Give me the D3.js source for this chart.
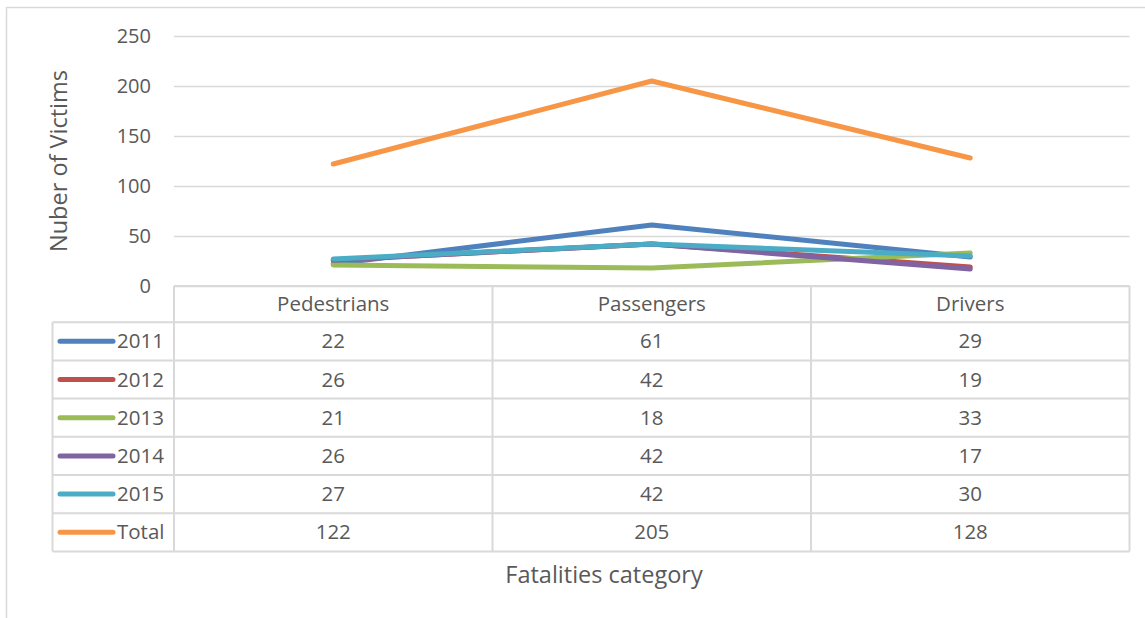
<!DOCTYPE html>
<html>
<head>
<meta charset="utf-8">
<script src="https://cdn.jsdelivr.net/npm/d3@7"></script>
<style>
  html, body { margin: 0; padding: 0; background: #fff; }
  svg { display: block; }
  text { font-family: "Open Sans", sans-serif; fill: #595959; }
</style>
</head>
<body>
<svg id="chart" width="1145" height="618"></svg>
<script>
// Fatalities by road-user category, 2011-2015
const categories = ["Pedestrians", "Passengers", "Drivers"];
const seriesNames = ["2011", "2012", "2013", "2014", "2015", "Total"];
const v2011 = [22, 61, 29];
const v2012 = [26, 42, 19];
const v2013 = [21, 18, 33];
const v2014 = [26, 42, 17];
const v2015 = [27, 42, 30];
const vTotal = [122, 205, 128];
const yTicks = [0, 50, 100, 150, 200, 250];
const colors = ["#4F81BD", "#C0504D", "#9BBB59", "#8064A2", "#4BACC6", "#F79646"];

const seriesValues = [v2011, v2012, v2013, v2014, v2015, vTotal];
const series = seriesNames.map((name, i) => ({ name, values: seriesValues[i], color: colors[i] }));

const svg = d3.select("#chart");
const gridColor = "#d9d9d9";

// outer chart frame
svg.append("rect")
  .attr("x", 6.5).attr("y", 7.5)
  .attr("width", 1160).attr("height", 640)
  .attr("fill", "none").attr("stroke", gridColor).attr("stroke-width", 1.5);

const plot = { left: 174, right: 1129.5, top: 36, bottom: 286 };

const x = d3.scaleBand().domain(categories).range([plot.left, plot.right]).padding(0);
const y = d3.scaleLinear().domain([0, 250]).range([plot.bottom, plot.top]);

// gridlines + tick labels
const yAxis = d3.axisLeft(y).tickValues(yTicks).tickSize(-(plot.right - plot.left)).tickPadding(23);
const gy = svg.append("g").attr("transform", `translate(${plot.left},0)`).call(yAxis);
gy.select(".domain").remove();
gy.selectAll(".tick line").attr("stroke", gridColor).attr("stroke-width", 1.5);
gy.selectAll(".tick text")
  .style("font-size", "20px").style("fill", "#595959").style("font-family", "Open Sans, sans-serif");

// data table
const tableLeft = 52.5;
const rowH = 38.2;
const headerTop = plot.bottom;
const headerH = 36.2;
const tableG = svg.append("g");
const tableBottom = headerTop + headerH + rowH * series.length;

const line = (x1, y1, x2, y2) => tableG.append("line")
  .attr("x1", x1).attr("y1", y1).attr("x2", x2).attr("y2", y2)
  .attr("stroke", gridColor).attr("stroke-width", 2);

// horizontal rules
series.forEach((s, i) => {
  const yy = headerTop + headerH + rowH * i;
  line(tableLeft, yy, plot.right, yy);
});
line(tableLeft, tableBottom, plot.right, tableBottom);
line(plot.left, headerTop, plot.right, headerTop);
// vertical rules
line(tableLeft, headerTop + headerH, tableLeft, tableBottom);
categories.forEach(c => line(x(c), headerTop, x(c), tableBottom));
line(plot.right, headerTop, plot.right, tableBottom);

// header labels
tableG.selectAll("text.cat").data(categories).join("text")
  .attr("class", "cat")
  .attr("x", d => x(d) + x.bandwidth() / 2)
  .attr("y", headerTop + headerH / 2)
  .attr("dy", "0.35em")
  .attr("text-anchor", "middle")
  .style("font-size", "20.5px")
  .text(d => d);

// rows: legend key + values
series.forEach((s, i) => {
  const cy = headerTop + headerH + rowH * i + rowH / 2;
  tableG.append("line")
    .attr("x1", 60).attr("x2", 113).attr("y1", cy).attr("y2", cy)
    .attr("stroke", s.color).attr("stroke-width", 5).attr("stroke-linecap", "round");
  tableG.append("text")
    .attr("x", 117).attr("y", cy).attr("dy", "0.35em")
    .style("font-size", "20.5px")
    .text(s.name);
  categories.forEach((c, j) => {
    tableG.append("text")
      .attr("x", x(c) + x.bandwidth() / 2).attr("y", cy).attr("dy", "0.35em")
      .attr("text-anchor", "middle")
      .style("font-size", "20.5px")
      .text(s.values[j]);
  });
});

// series lines
const lineGen = d3.line()
  .x((d, i) => x(categories[i]) + x.bandwidth() / 2)
  .y(d => y(d));

svg.append("g").selectAll("path").data(series).join("path")
  .attr("d", d => lineGen(d.values))
  .attr("fill", "none")
  .attr("stroke", d => d.color)
  .attr("stroke-width", 5)
  .attr("stroke-linecap", "round")
  .attr("stroke-linejoin", "round");

// axis titles
svg.append("text")
  .attr("transform", `translate(67,161) rotate(-90)`)
  .attr("text-anchor", "middle")
  .style("font-size", "23.5px")
  .text("Nuber of Victims");

svg.append("text")
  .attr("x", 604).attr("y", 583)
  .attr("text-anchor", "middle")
  .style("font-size", "23.5px")
  .text("Fatalities category");
</script>
</body>
</html>
